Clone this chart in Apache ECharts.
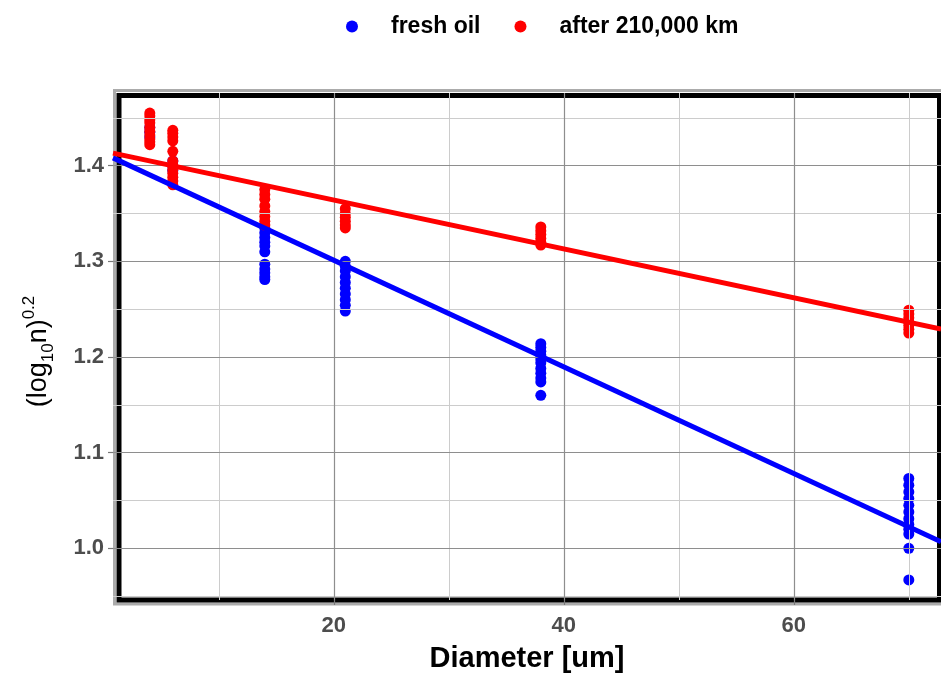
<!DOCTYPE html>
<html>
<head>
<meta charset="utf-8">
<script src="https://cdn.jsdelivr.net/npm/echarts@6/dist/echarts.min.js"></script>
<style>
html,body{margin:0;padding:0;background:#fff;}
#chart{width:941px;height:678px;}
</style>
</head>
<body>
<div id="chart"></div>
<script>
// ---- data ----
const diameters = [4, 6, 14, 21, 38, 70];
const freshOil = [
  [1.440, 1.435, 1.430],
  [1.405, 1.400, 1.395],
  [1.335, 1.330, 1.325, 1.320, 1.316, 1.310, 1.297, 1.292, 1.288, 1.284, 1.281],
  [1.300, 1.295, 1.290, 1.284, 1.278, 1.272, 1.266, 1.260, 1.254, 1.248],
  [1.214, 1.210, 1.206, 1.202, 1.198, 1.194, 1.188, 1.183, 1.178, 1.174, 1.160],
  [1.073, 1.066, 1.059, 1.052, 1.045, 1.038, 1.031, 1.025, 1.020, 1.015, 1.000, 0.967]
];
const after210k = [
  [1.455, 1.452, 1.448, 1.445, 1.440, 1.436, 1.432, 1.428, 1.425, 1.422],
  [1.437, 1.434, 1.430, 1.426, 1.415, 1.405, 1.400, 1.396, 1.392, 1.388, 1.384, 1.380],
  [1.375, 1.370, 1.365, 1.358, 1.352, 1.347, 1.342, 1.338],
  [1.355, 1.350, 1.346, 1.342, 1.338, 1.335],
  [1.336, 1.332, 1.328, 1.324, 1.320, 1.317],
  [1.249, 1.245, 1.241, 1.237, 1.233, 1.229, 1.225]
];
const fitX = [0.8, 72.8];
const freshFitY = [1.4082, 1.0070];
const agedFitY = [1.4132, 1.2292];
const xTicks = [20, 40, 60];
const xMinor = [10, 30, 50, 70];
const yTicks = [1.0, 1.1, 1.2, 1.3, 1.4];
const yMinor = [0.95, 1.05, 1.15, 1.25, 1.35, 1.45];
const seriesNames = ['fresh oil', 'after 210,000 km'];

// ---- build ----
const toPoints = (groups) => diameters.flatMap((d, i) => groups[i].map(v => [d, v]));
const toLine = (ys) => fitX.map((x, i) => [x, ys[i]]);
const BLUE = '#0000ff', RED = '#ff0000';
const MAJOR = '#8e8e8e', MINOR = '#cccccc';

const gridLines = []
  .concat(xMinor.map(v => ({xAxis: v, lineStyle: {color: MINOR, width: 1, type: 'solid'}})))
  .concat(yMinor.map(v => ({yAxis: v, lineStyle: {color: MINOR, width: 1, type: 'solid'}})))
  .concat(xTicks.map(v => ({xAxis: v, lineStyle: {color: MAJOR, width: 1.2, type: 'solid'}})))
  .concat(yTicks.map(v => ({yAxis: v, lineStyle: {color: MAJOR, width: 1.2, type: 'solid'}})));

const chart = echarts.init(document.getElementById('chart'), null, {renderer: 'canvas'});
const font = 'Liberation Sans, Arial, Helvetica, sans-serif';
chart.setOption({
  animation: false,
  backgroundColor: '#ffffff',
  textStyle: {fontFamily: font},
  grid: {left: 113, right: 0, top: 93, bottom: 78, containLabel: false},
  graphic: [
    {type: 'rect', z: -10, silent: true, shape: {x: 114.5, y: 90.5, width: 840, height: 513.5},
     style: {fill: '#ffffff', stroke: '#ababab', lineWidth: 3}},
    {type: 'rect', z: -9, silent: true, shape: {x: 119, y: 95.5, width: 820.5, height: 504.5},
     style: {fill: 'none', stroke: '#000000', lineWidth: 5}}
  ],
  legend: {
    data: seriesNames.map(n => ({name: n, icon: 'circle'})),
    left: 341, top: 10,
    itemWidth: 14, itemHeight: 12, itemGap: 34,
    textStyle: {fontFamily: font, fontSize: 23, fontWeight: 'bold', color: '#000', padding: [0, 0, 0, 27]}
  },
  xAxis: {
    type: 'value', min: 0.8, max: 72.8,
    axisLine: {show: false},
    splitLine: {show: false},
    axisTick: {show: true, customValues: xTicks, length: 5, lineStyle: {color: '#777', width: 1.2}},
    axisLabel: {customValues: xTicks, color: '#4d4d4d', fontWeight: 'bold', fontSize: 22, margin: 15, fontFamily: font},
    name: 'Diameter [um]', nameLocation: 'middle', nameGap: 44,
    nameTextStyle: {color: '#000', fontWeight: 'bold', fontSize: 29, fontFamily: font}
  },
  yAxis: {
    type: 'value', min: 0.946, max: 1.476,
    axisLine: {show: false},
    splitLine: {show: false},
    axisTick: {show: true, customValues: yTicks, length: 5, lineStyle: {color: '#777', width: 1.2}},
    axisLabel: {customValues: yTicks, color: '#4d4d4d', fontWeight: 'bold', fontSize: 22, margin: 9, fontFamily: font,
                formatter: v => Number(v).toFixed(1)},
    name: '{a|(log}{b|10}{a|n)}{c|0.2}', nameLocation: 'middle', nameGap: 56, nameRotate: 90,
    nameTextStyle: {
      color: '#000', fontFamily: font, padding: [0, 10, 0, 0],
      rich: {
        a: {fontSize: 27, lineHeight: 36, color: '#000', fontFamily: font},
        b: {fontSize: 17, lineHeight: 17, verticalAlign: 'bottom', color: '#000', fontFamily: font},
        c: {fontSize: 17, lineHeight: 17, verticalAlign: 'top', color: '#000', fontFamily: font}
      }
    }
  },
  series: [
    {type: 'line', name: 'grid', data: [], z: 1, silent: true,
     markLine: {silent: true, symbol: ['none', 'none'], label: {show: false}, animation: false, data: gridLines}},
    {type: 'scatter', name: seriesNames[0], data: toPoints(freshOil), symbolSize: 11, z: 3,
     itemStyle: {color: BLUE, opacity: 1}},
    {type: 'scatter', name: seriesNames[1], data: toPoints(after210k), symbolSize: 11, z: 4,
     itemStyle: {color: RED, opacity: 1}},
    {type: 'line', name: 'fit-fresh', data: toLine(freshFitY), showSymbol: false, symbol: 'none', z: 5,
     lineStyle: {color: BLUE, width: 5}},
    {type: 'line', name: 'fit-aged', data: toLine(agedFitY), showSymbol: false, symbol: 'none', z: 6,
     lineStyle: {color: RED, width: 5}}
  ]
});
</script>
</body>
</html>
